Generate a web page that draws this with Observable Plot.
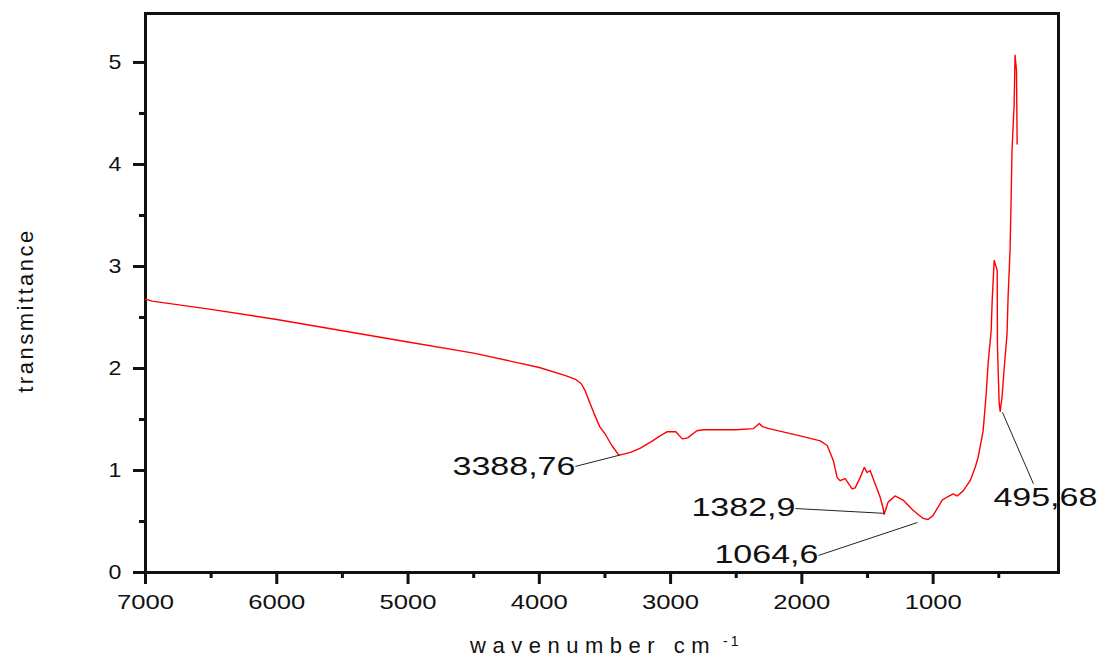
<!DOCTYPE html>
<html><head><meta charset="utf-8">
<script src="https://cdn.jsdelivr.net/npm/d3@7"></script>
<script src="https://cdn.jsdelivr.net/npm/@observablehq/plot@0.6"></script>
<style>
html,body{margin:0;padding:0;background:#fff;}
</style></head><body><div id="chart"></div><script>
// Spectrum (wavenumber cm-1 -> transmittance)
const wavenumber = [7000,6950,6500,6000,5500,5000,4500,4000,3800,3720,3680,3650,3620,3580,3540,3500,3450,3400,3388,3300,3230,3150,3080,3025,2960,2911,2870,2800,2750,2500,2370,2325,2300,2250,2013,1860,1807,1761,1731,1708,1670,1617,1594,1556,1525,1503,1480,1442,1404,1383,1373,1358,1343,1290,1229,1153,1076,1038,1000,931,893,848,817,771,718,680,657,619,596,581,558,550,535,512,510,497,489,475,460,437,429,414,406,399,383,376,365,360];
const transmittance = [2.68,2.66,2.58,2.48,2.37,2.26,2.15,2.01,1.93,1.89,1.85,1.78,1.68,1.55,1.43,1.36,1.25,1.16,1.15,1.18,1.22,1.28,1.34,1.38,1.38,1.31,1.32,1.39,1.40,1.40,1.41,1.46,1.43,1.41,1.34,1.29,1.245,1.10,0.93,0.90,0.92,0.82,0.83,0.93,1.03,0.98,1.00,0.87,0.74,0.64,0.57,0.63,0.69,0.75,0.71,0.61,0.53,0.52,0.56,0.71,0.74,0.77,0.75,0.80,0.90,1.03,1.13,1.39,1.75,2.05,2.37,2.67,3.06,2.96,2.21,1.66,1.58,1.72,1.98,2.34,2.70,3.16,3.65,4.14,4.59,5.07,4.92,4.20];

// Axis ticks
const xMajor = [7000,6000,5000,4000,3000,2000,1000];
const xMinor = [6500,5500,4500,3500,2500,1500,500];
const yMajor = [0,1,2,3,4,5];
const yMinor = [0.5,1.5,2.5,3.5,4.5];

// Peak annotations
const peakLabels = ["3388,76","1382,9","1064,6","495,68"];
const peakX = [3390,1373,1120,472];
const peakY = [1.15,0.58,0.49,1.57];
const leaderX = [3725,2049,1874,236];
const leaderY = [1.04,0.627,0.167,0.87];
const labelX = [3725,2049,1874,541];
const labelY = [1.03,0.63,0.17,0.735];
const labelAnchor = ["end","end","end","start"];

const xTitle = "wavenumber cm";
const xTitleSup = "-1";
const yTitle = "transmittance";

const spectrum = wavenumber.map((w,i)=>({w, t: transmittance[i]}));
const annots = peakLabels.map((s,i)=>({s, px:peakX[i], py:peakY[i], lx:leaderX[i], ly:leaderY[i], tx:labelX[i], ty:labelY[i], a:labelAnchor[i]}));

const chart = Plot.plot({
  width:1102, height:659,
  marginLeft:145, marginRight:44, marginTop:13, marginBottom:87,
  style:{fontFamily:"'Liberation Sans', Arial, sans-serif", fontSize:"21px", color:"#111", background:"#fff"},
  x:{domain:[7000,45]},
  y:{domain:[0,5.48]},
  marks:[
    Plot.axisX({ticks:xMajor, tickSize:12, tickPadding:10, strokeWidth:3, label:null, tickFormat:d=>`${d}`}),
    Plot.axisX({ticks:xMinor, tickSize:6, strokeWidth:3, label:null, tickFormat:()=>""}),
    Plot.axisY({ticks:yMajor, tickSize:12, tickPadding:12, strokeWidth:3, label:null, tickFormat:d=>`${d}`}),
    Plot.axisY({ticks:yMinor, tickSize:6, strokeWidth:3, label:null, tickFormat:()=>""}),
    Plot.frame({strokeWidth:3}),
    Plot.line(spectrum, {x:"w", y:"t", stroke:"red", strokeWidth:1.4}),
    Plot.link(annots, {x1:"lx", y1:"ly", x2:"px", y2:"py", stroke:"#222", strokeWidth:1}),
    Plot.text(annots.filter(d=>d.a==="end"), {x:"tx", y:"ty", text:"s", textAnchor:"end", fontSize:25}),
    Plot.text(annots.filter(d=>d.a==="start"), {x:"tx", y:"ty", text:"s", textAnchor:"start", fontSize:25}),
    Plot.text([yTitle], {frameAnchor:"left", textAnchor:"middle", lineAnchor:"middle", dx:-120, dy:17.5, rotate:-90, fontSize:22}),
    Plot.text([xTitle], {frameAnchor:"bottom", textAnchor:"middle", lineAnchor:"middle", dx:-9, dy:73, fontSize:22}),
    Plot.text([xTitleSup], {frameAnchor:"bottom", textAnchor:"start", lineAnchor:"middle", dx:121, dy:69, fontSize:14})
  ]
});
document.getElementById("chart").appendChild(chart);

// horizontal stretch of the reference's typography
const stretch = new Map();
peakLabels.forEach(s=>stretch.set(s,1.36));
xMajor.forEach(v=>stretch.set(`${v}`,1.22));
yMajor.forEach(v=>{ if(!stretch.has(`${v}`)) stretch.set(`${v}`,1.1); });
const spacing = new Map([[xTitle,"6.5px"],[yTitle,"2.5px"],[xTitleSup,"3px"]]);
d3.select(chart).selectAll("text").each(function(){
  const t = this.textContent;
  if (spacing.has(t)) { this.style.letterSpacing = spacing.get(t); return; }
  if (stretch.has(t)) {
    const w = this.getComputedTextLength();
    this.setAttribute("textLength", (w*stretch.get(t)).toFixed(1));
    this.setAttribute("lengthAdjust", "spacingAndGlyphs");
  }
});
</script></body></html>
